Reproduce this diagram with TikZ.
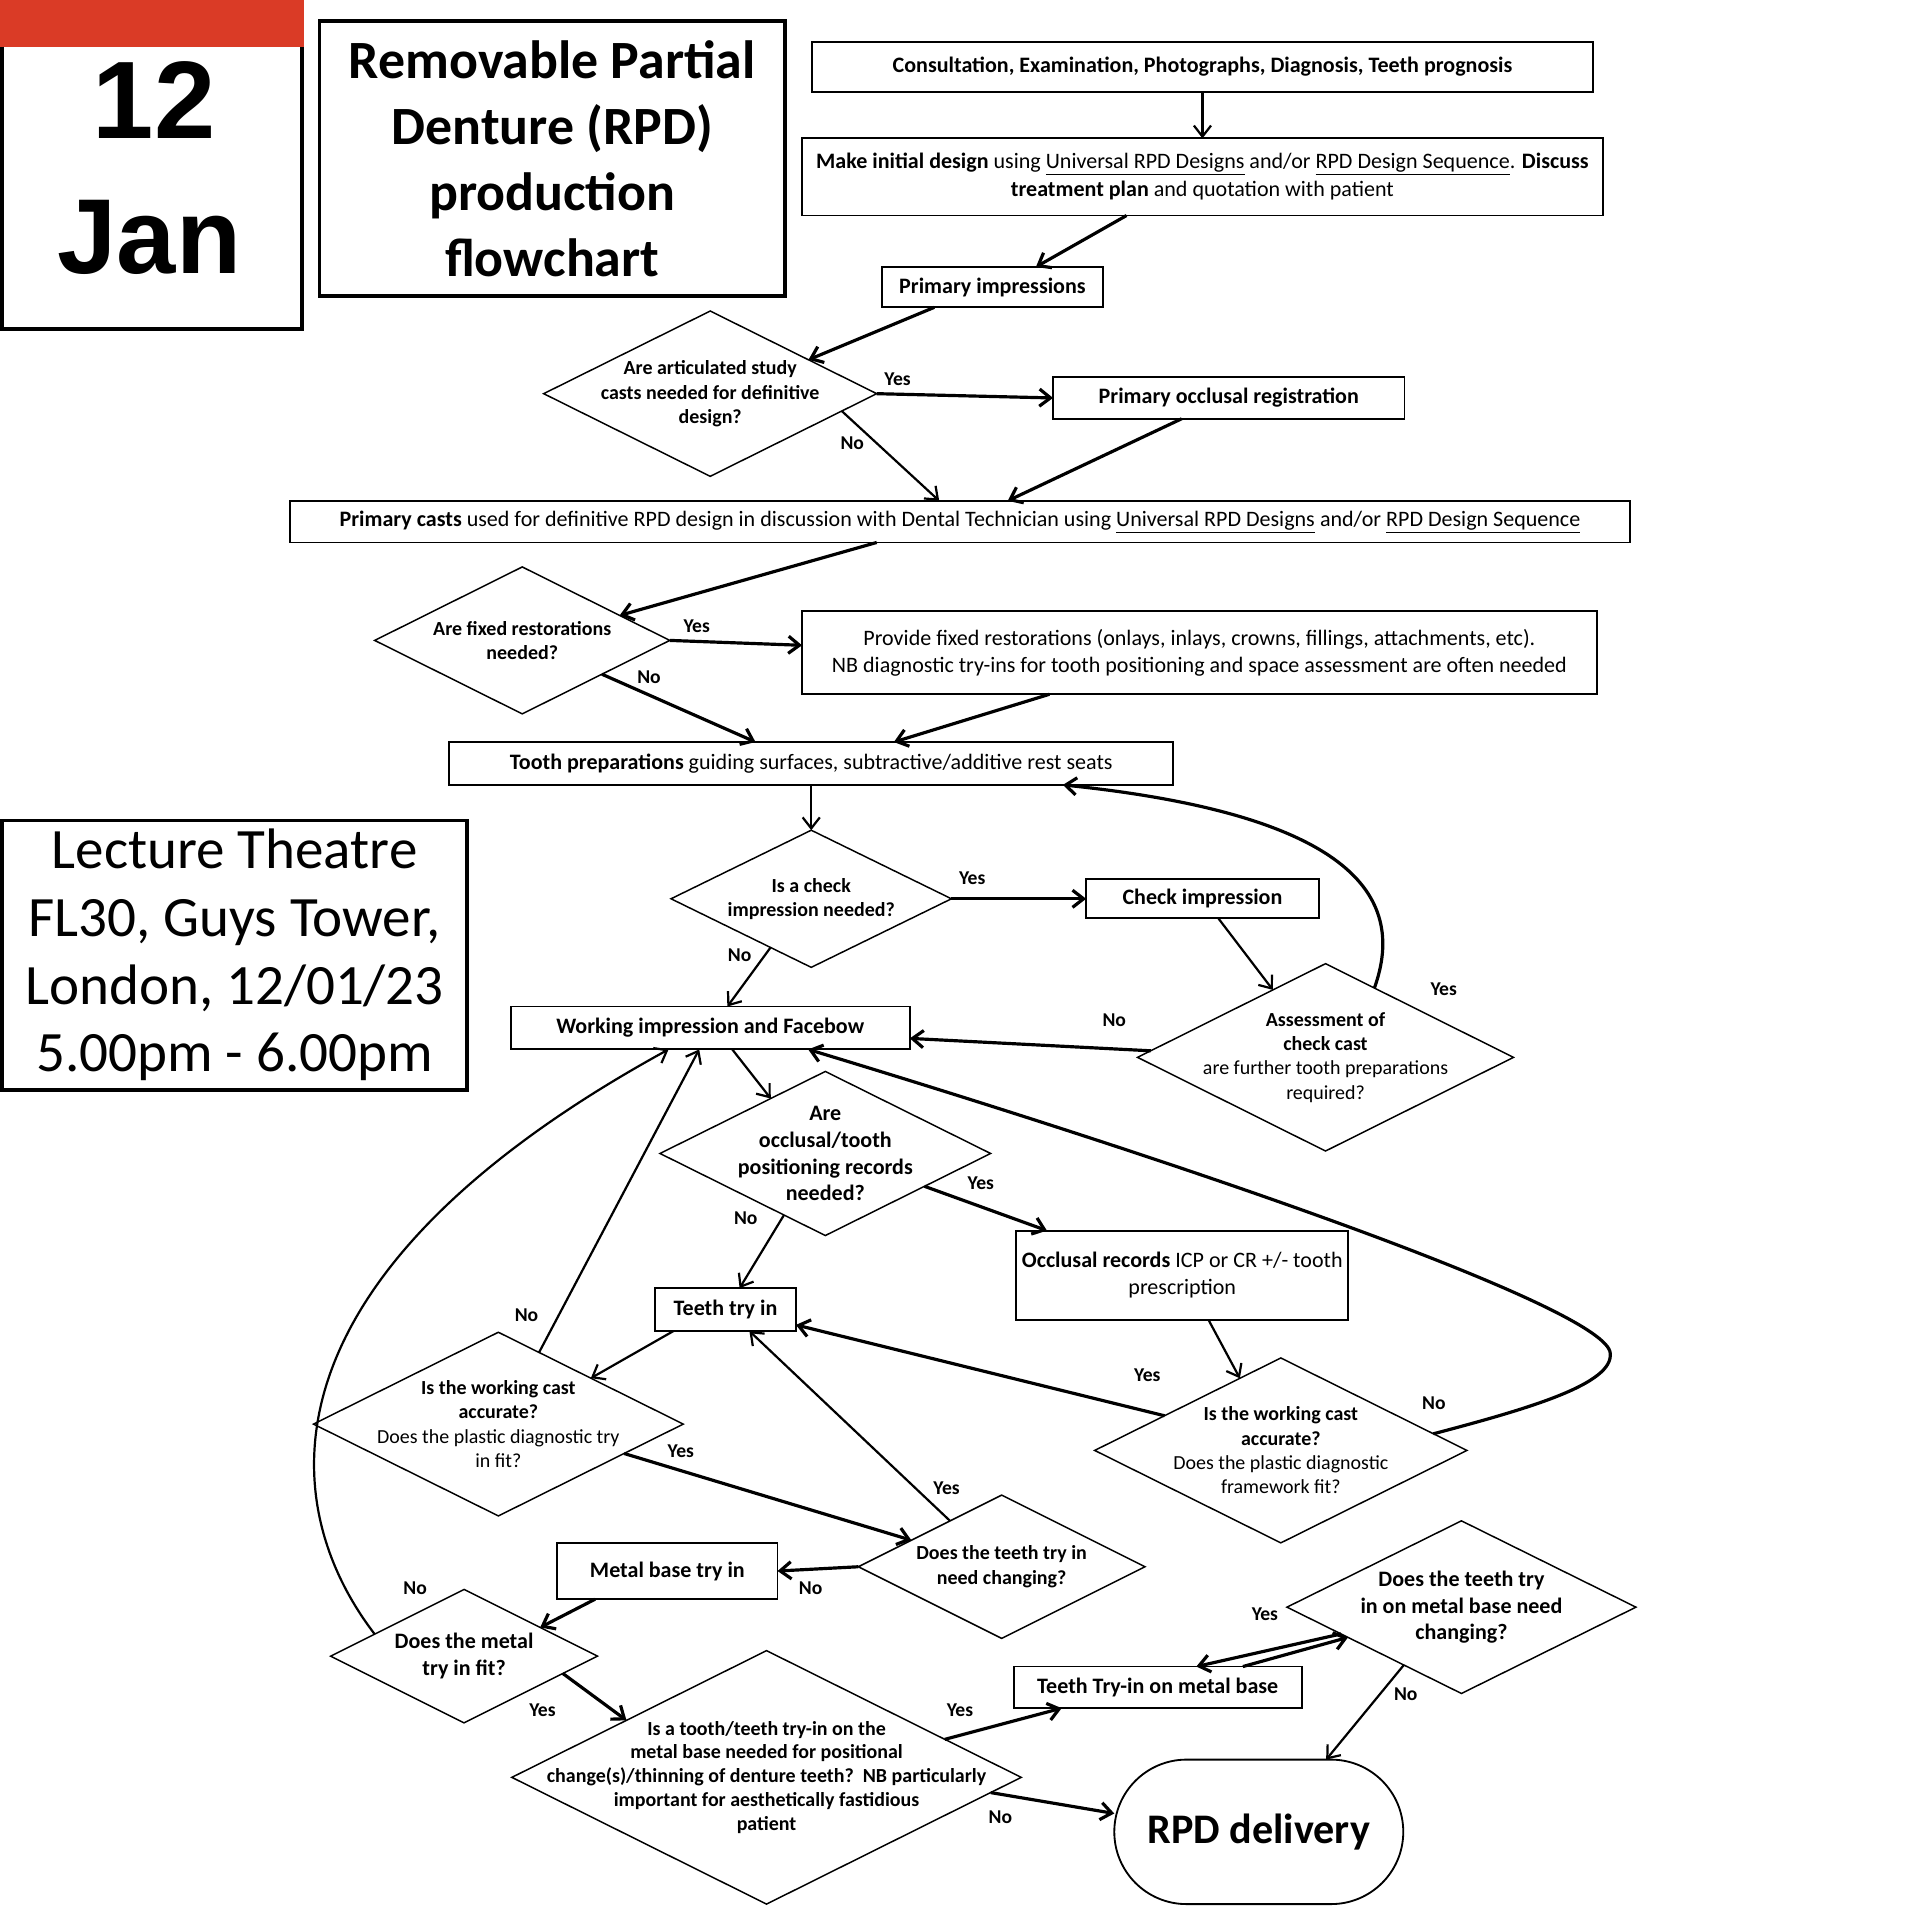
\documentclass[tikz,border=0pt]{standalone}
\usepackage{fontspec}
\setmainfont{Carlito}
\newfontfamily\arialf{Liberation Sans}
\usetikzlibrary{arrows.meta,shapes.geometric,shapes.misc,calc}
\newcommand{\fsz}[2]{\fontsize{#1}{#2}\selectfont}
\definecolor{calred}{RGB}{218,59,38}
\begin{document}
\begin{tikzpicture}[x=1pt,y=-1pt,
  box/.style={draw,line width=1.5pt,inner sep=0pt,outer sep=0pt,align=center,font=\fsz{18}{22.5}},
  bigbox/.style={draw,line width=3pt,inner sep=0pt,outer sep=0pt,align=center},
  dia/.style={draw,diamond,line width=1.2pt,inner sep=0pt,outer sep=0pt},
  dtxt/.style={align=center,inner sep=0pt,font=\fsz{16.3}{19.8}\bfseries},
  dtxtb/.style={align=center,inner sep=0pt,font=\fsz{18}{22}\bfseries},
  lbl/.style={font=\fsz{16}{18}\bfseries,inner sep=0pt},
  arr/.style={line width=2.6pt,-{Straight Barb[length=9pt,width=14pt]}},
  arrt/.style={line width=1.8pt,-{Straight Barb[length=9pt,width=14pt]}},
]
\fill[white] (0,0) rectangle (1568,1568);
\useasboundingbox (0,0) rectangle (1568,1568);
% calendar
\fill[calred] (0,0) rectangle (248,38);
\draw[line width=3pt] (1.5,38) -- (1.5,268.5) -- (246.5,268.5) -- (246.5,38);
\node[inner sep=0pt] (day) at (126,82) {\arialf\bfseries\fsz{90}{90}12};
\node[inner sep=0pt] (mon) at (122,194) {\arialf\bfseries\fsz{87}{87}Jan};
% title
\node[bigbox,minimum width=380pt,minimum height=225pt,font=\fsz{44}{54}\bfseries] (title) at (451,129.5) {Removable Partial\\Denture (RPD)\\production\\flowchart};
% lecture
\node[bigbox,minimum width=380pt,minimum height=220pt,font=\fsz{46.6}{55.3}] (lect) at (191.5,780) {Lecture Theatre\\FL30, Guys Tower,\\London, 12/01/23\\5.00pm - 6.00pm};
% boxes
\node[box,minimum width=638pt,minimum height=41pt] (cons) at (982,54.5) {\textbf{Consultation, Examination, Photographs, Diagnosis, Teeth prognosis}};
\node[box,minimum width=654pt,minimum height=63pt,font=\fsz{18}{23}] (init) at (982,144.5) {\textbf{Make initial design} using \underline{Universal RPD Designs} and/or \underline{RPD Design Sequence}. \textbf{Discuss}\\\textbf{treatment plan} and quotation with patient};
\node[box,minimum width=181pt,minimum height=33pt] (pi) at (810.5,234.5) {\textbf{Primary impressions}};
\node[box,minimum width=287pt,minimum height=34pt] (por) at (1003.5,325) {\textbf{Primary occlusal registration}};
\node[box,minimum width=1094pt,minimum height=34pt] (pc) at (784,426) {\textbf{Primary casts} used for definitive RPD design in discussion with Dental Technician using \underline{Universal RPD Designs} and/or \underline{RPD Design Sequence}};
\node[box,minimum width=649pt,minimum height=68pt,font=\fsz{18}{22}] (fix) at (979.5,533) {Provide fixed restorations (onlays, inlays, crowns, fillings, attachments, etc).\\NB diagnostic try-ins for tooth positioning and space assessment are often needed};
\node[box,minimum width=591pt,minimum height=35pt] (ts) at (662.5,623.5) {\textbf{Tooth preparations} guiding surfaces, subtractive/additive rest seats};
\node[box,minimum width=190pt,minimum height=32pt] (ci) at (982,734) {\textbf{Check impression}};
\node[box,minimum width=326pt,minimum height=35pt] (wi) at (580,839.5) {\textbf{Working impression and Facebow}};
\node[box,minimum width=271pt,minimum height=73pt,font=\fsz{18}{22}] (or) at (965.5,1041.5) {\textbf{Occlusal records} ICP or CR +/- tooth\\prescription};
\node[box,minimum width=115pt,minimum height=35pt] (tti) at (592.5,1069.5) {\textbf{Teeth try in}};
\node[box,minimum width=180pt,minimum height=46pt] (mb) at (545,1283) {\textbf{Metal base try in}};
\node[box,minimum width=235pt,minimum height=34pt] (tmb) at (945.5,1378) {\textbf{Teeth Try-in on metal base}};
\node[box,rounded rectangle,minimum width=236pt,minimum height=118pt,font=\fsz{34.4}{40}] (rpd) at (1028,1496) {\textbf{RPD delivery}};
% diamonds
\node[dia,minimum width=272pt,minimum height=135pt] (d1) at (580,321.5) {};
\node[dtxt] (d1t) at (d1) {Are articulated study\\casts needed for definitive\\design?};
\node[dia,minimum width=241pt,minimum height=120pt] (d2) at (426.5,523) {};
\node[dtxt] (d2t) at (d2) {Are fixed restorations\\needed?};
\node[dia,minimum width=229pt,minimum height=112pt] (d3) at (662.5,734) {};
\node[dtxt] (d3t) at (d3) {Is a check\\impression needed?};
\node[dia,minimum width=307pt,minimum height=153pt] (d4) at (1082.5,863.5) {};
\node[dtxt] (d4t) at (d4) {Assessment of\\check cast\\\mdseries are further tooth preparations\\\mdseries required?};
\node[dia,minimum width=270pt,minimum height=134pt] (d5) at (674,942) {};
\node[dtxtb] (d5t) at (d5) {Are\\occlusal/tooth\\positioning records\\needed?};
\node[dia,minimum width=302pt,minimum height=150pt] (d6) at (407,1163) {};
\node[dtxt] (d6t) at (d6) {Is the working cast\\accurate?\\\mdseries Does the plastic diagnostic try\\\mdseries in fit?};
\node[dia,minimum width=304pt,minimum height=151pt] (d7) at (1046,1184.5) {};
\node[dtxt] (d7t) at (d7) {Is the working cast\\accurate?\\\mdseries Does the plastic diagnostic\\\mdseries framework fit?};
\node[dia,minimum width=234pt,minimum height=117pt] (d8) at (818,1279.5) {};
\node[dtxt] (d8t) at (d8) {Does the teeth try in\\need changing?};
\node[dia,minimum width=218pt,minimum height=109pt] (d9) at (379,1352.5) {};
\node[dtxtb] (d9t) at (d9) {Does the metal\\try in fit?};
\node[dia,minimum width=416pt,minimum height=207pt] (d10) at (626,1451.5) {};
\node[dtxt,font=\fsz{16.3}{19.5}\bfseries] (d10t) at (d10) {Is a tooth/teeth try-in on the\\metal base needed for positional\\change(s)/thinning of denture teeth?~~NB particularly\\important for aesthetically fastidious\\patient};
\node[dia,minimum width=285pt,minimum height=141pt] (d11) at (1193.5,1312.5) {};
\node[dtxtb] (d11t) at (d11) {Does the teeth try\\in on metal base need\\changing?};
% helper coordinate for the right loop
\coordinate (loopR) at (1315,1105);
% connectors
\draw[arrt] (cons.south) -- (init.north);
\draw[arr] ([xshift=-62pt]init.south) -- ([xshift=35.5pt]pi.north);
\draw[arr] ([xshift=-47.5pt]pi.south) -- ($(d1.north)!0.59!(d1.east)$);
\draw[arr] (d1.east) -- (por.west);
\draw[arrt] ($(d1.south)!0.79!(d1.east)$) -- ([xshift=-17pt]pc.north);
\draw[arr] ([xshift=-38.5pt]por.south) -- ([xshift=39pt]pc.north);
\draw[arr] ([xshift=-68pt]pc.south) -- ($(d2.north)!0.66!(d2.east)$);
\draw[arr] (d2.east) -- ([yshift=6pt]fix.west);
\draw[arr] ($(d2.south)!0.54!(d2.east)$) -- ([xshift=-45.5pt]ts.north);
\draw[arr] ([xshift=-122.5pt]fix.south) -- ([xshift=67.5pt]ts.north);
\draw[arrt] (ts.south) -- (d3.north);
\draw[arr] (d3.east) -- (ci.west);
\draw[arrt] ($(d3.south)!0.29!(d3.west)$) -- ([xshift=14pt]wi.north);
\draw[arrt] ([xshift=13pt]ci.south) -- ($(d4.north)!0.28!(d4.west)$);
\draw[arr] ($(d4.north)!0.26!(d4.east)$) .. controls (1150,730) and (1100,665) .. ([xshift=205.5pt]ts.south);
\draw[arr] ($(d4.north)!0.93!(d4.west)$) -- ([yshift=-8.5pt]wi.east);
\draw[arrt] ([xshift=18pt]wi.south) -- ($(d5.north)!0.33!(d5.west)$);
\draw[arr] ($(d5.south)!0.6!(d5.east)$) -- ([xshift=-110.5pt]or.north);
\draw[arrt] ($(d5.south)!0.25!(d5.west)$) -- ([xshift=11.5pt]tti.north);
\draw[arrt] ([xshift=21.5pt]or.south) -- ($(d7.north)!0.22!(d7.west)$);
\draw[arr] ($(d7.north)!0.625!(d7.west)$) -- ([yshift=-12.5pt]tti.east);
\draw[arr] ($(d7.north)!0.82!(d7.east)$) .. controls (1250,1150) and (1318,1130) .. (loopR) .. controls (1312,1070) and (1000,960) .. ([xshift=80pt]wi.south);
\draw[arrt] ([xshift=-42.5pt]tti.south) -- ($(d6.north)!0.5!(d6.east)$);
\draw[arrt] ($(d6.north)!0.22!(d6.east)$) -- ([xshift=-9pt]wi.south);
\draw[arr] ($(d6.south)!0.68!(d6.east)$) -- ($(d8.north)!0.63!(d8.west)$);
\draw[arrt] ($(d8.north)!0.36!(d8.west)$) -- ([xshift=19.5pt]tti.south);
\draw[arr] (d8.west) -- (mb.east);
\draw[arr] ([xshift=-59pt]mb.south) -- ($(d9.north)!0.57!(d9.east)$);
\draw[arrt] ($(d9.north)!0.67!(d9.west)$) .. controls (222,1225) and (212,1040) .. ([xshift=-34pt]wi.south);
\draw[arr] ($(d9.south)!0.74!(d9.east)$) -- ($(d10.north)!0.55!(d10.west)$);
\draw[arr] ($(d10.north)!0.70!(d10.east)$) -- ([xshift=-78.5pt]tmb.south);
\draw[arr] ($(d10.south)!0.88!(d10.east)$) -- ([yshift=15pt]rpd.west);
\draw[arr] ($(d11.south)!0.69!(d11.west)$) -- ([xshift=31.5pt]tmb.north);
\draw[arr] ([xshift=69.5pt]tmb.north) -- ($(d11.south)!0.65!(d11.west)$);
\draw[arrt] ($(d11.south)!0.33!(d11.west)$) -- ([xshift=55pt]rpd.north);
% labels
\node[lbl] at (733,310) {Yes};
\node[lbl] at (696,362) {No};
\node[lbl] at (569,511) {Yes};
\node[lbl] at (530,553) {No};
\node[lbl] at (794,717) {Yes};
\node[lbl] at (604,780) {No};
\node[lbl] at (1179,808) {Yes};
\node[lbl] at (910,833) {No};
\node[lbl] at (801,966) {Yes};
\node[lbl] at (609,995) {No};
\node[lbl] at (937,1123) {Yes};
\node[lbl] at (1171,1146) {No};
\node[lbl] at (430,1074) {No};
\node[lbl] at (556,1185) {Yes};
\node[lbl] at (773,1215) {Yes};
\node[lbl] at (662,1297) {No};
\node[lbl] at (339,1297) {No};
\node[lbl] at (443,1397) {Yes};
\node[lbl] at (784,1397) {Yes};
\node[lbl] at (817,1484) {No};
\node[lbl] at (1033,1318) {Yes};
\node[lbl] at (1148,1384) {No};
\end{tikzpicture}
\end{document}
